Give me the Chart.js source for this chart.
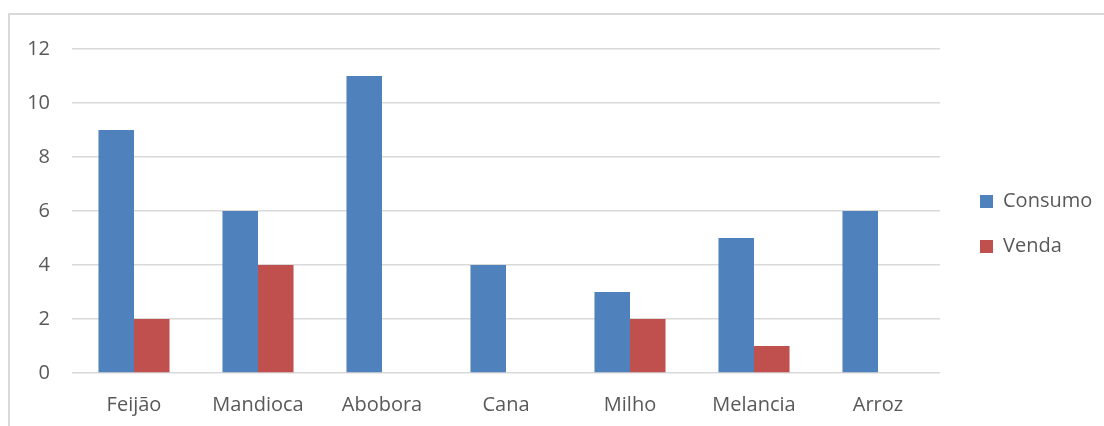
<!DOCTYPE html>
<html>
<head>
<meta charset="utf-8">
<script src="https://cdn.jsdelivr.net/npm/chart.js@4"></script>
<style>
  html, body { margin: 0; padding: 0; background: #fff; }
  #frame {
    position: absolute;
    left: 8px;
    top: 13px;
    width: 1096px;
    height: 413px;
    border-top: 2px solid #d9d9d9;
    border-left: 2px solid #d9d9d9;
  }
</style>
</head>
<body>
<div id="frame"><canvas id="chart" width="1094" height="411"></canvas></div>
<script>
const categories = ['Feijão', 'Mandioca', 'Abobora', 'Cana', 'Milho', 'Melancia', 'Arroz'];
const consumo = [9, 6, 11, 4, 3, 5, 6];
const venda = [2, 4, null, null, 2, 1, null];

const textColor = '#595959';
const gridColor = '#d9d9d9';
const font = { family: "'Open Sans', sans-serif", size: 20 };

// keep the legend at a fixed width and nudge it into place
const legendPlugin = {
  id: 'legend_fit',
  beforeInit: (chart) => {
    const legend = chart.legend;
    const fit = legend.fit;
    legend.fit = function() {
      fit.call(this);
      this.width = 164;
    };
  },
  afterLayout: (chart) => {
    chart.legend.left += 15;
    chart.legend.top -= 7;
  }
};

const chart = new Chart(document.getElementById('chart').getContext('2d'), {
  type: 'bar',
  plugins: [legendPlugin],
  data: {
    labels: categories,
    datasets: [
      { label: 'Consumo', data: consumo, backgroundColor: '#4f81bd' },
      { label: 'Venda', data: venda, backgroundColor: '#c0504d' }
    ]
  },
  options: {
    responsive: false,
    animation: false,
    categoryPercentage: 0.573,
    barPercentage: 1,
    layout: { padding: { top: 14, left: 0, right: 0, bottom: 0 } },
    plugins: {
      tooltip: { enabled: false },
      legend: {
        position: 'right',
        labels: {
          color: textColor,
          font: font,
          boxWidth: 13,
          boxHeight: 13,
          padding: 25
        }
      }
    },
    scales: {
      x: {
        grid: { display: false },
        border: { display: false },
        ticks: { color: textColor, font: font, padding: 12, maxRotation: 0 },
        afterFit: (scale) => { scale.height = 53; }
      },
      y: {
        min: 0,
        max: 12,
        ticks: { stepSize: 2, color: textColor, font: font, padding: 22 },
        grid: { color: gridColor, lineWidth: 1.5, drawTicks: false },
        border: { display: false },
        afterFit: (scale) => { scale.width = 62; }
      }
    }
  }
});
</script>
</body>
</html>
